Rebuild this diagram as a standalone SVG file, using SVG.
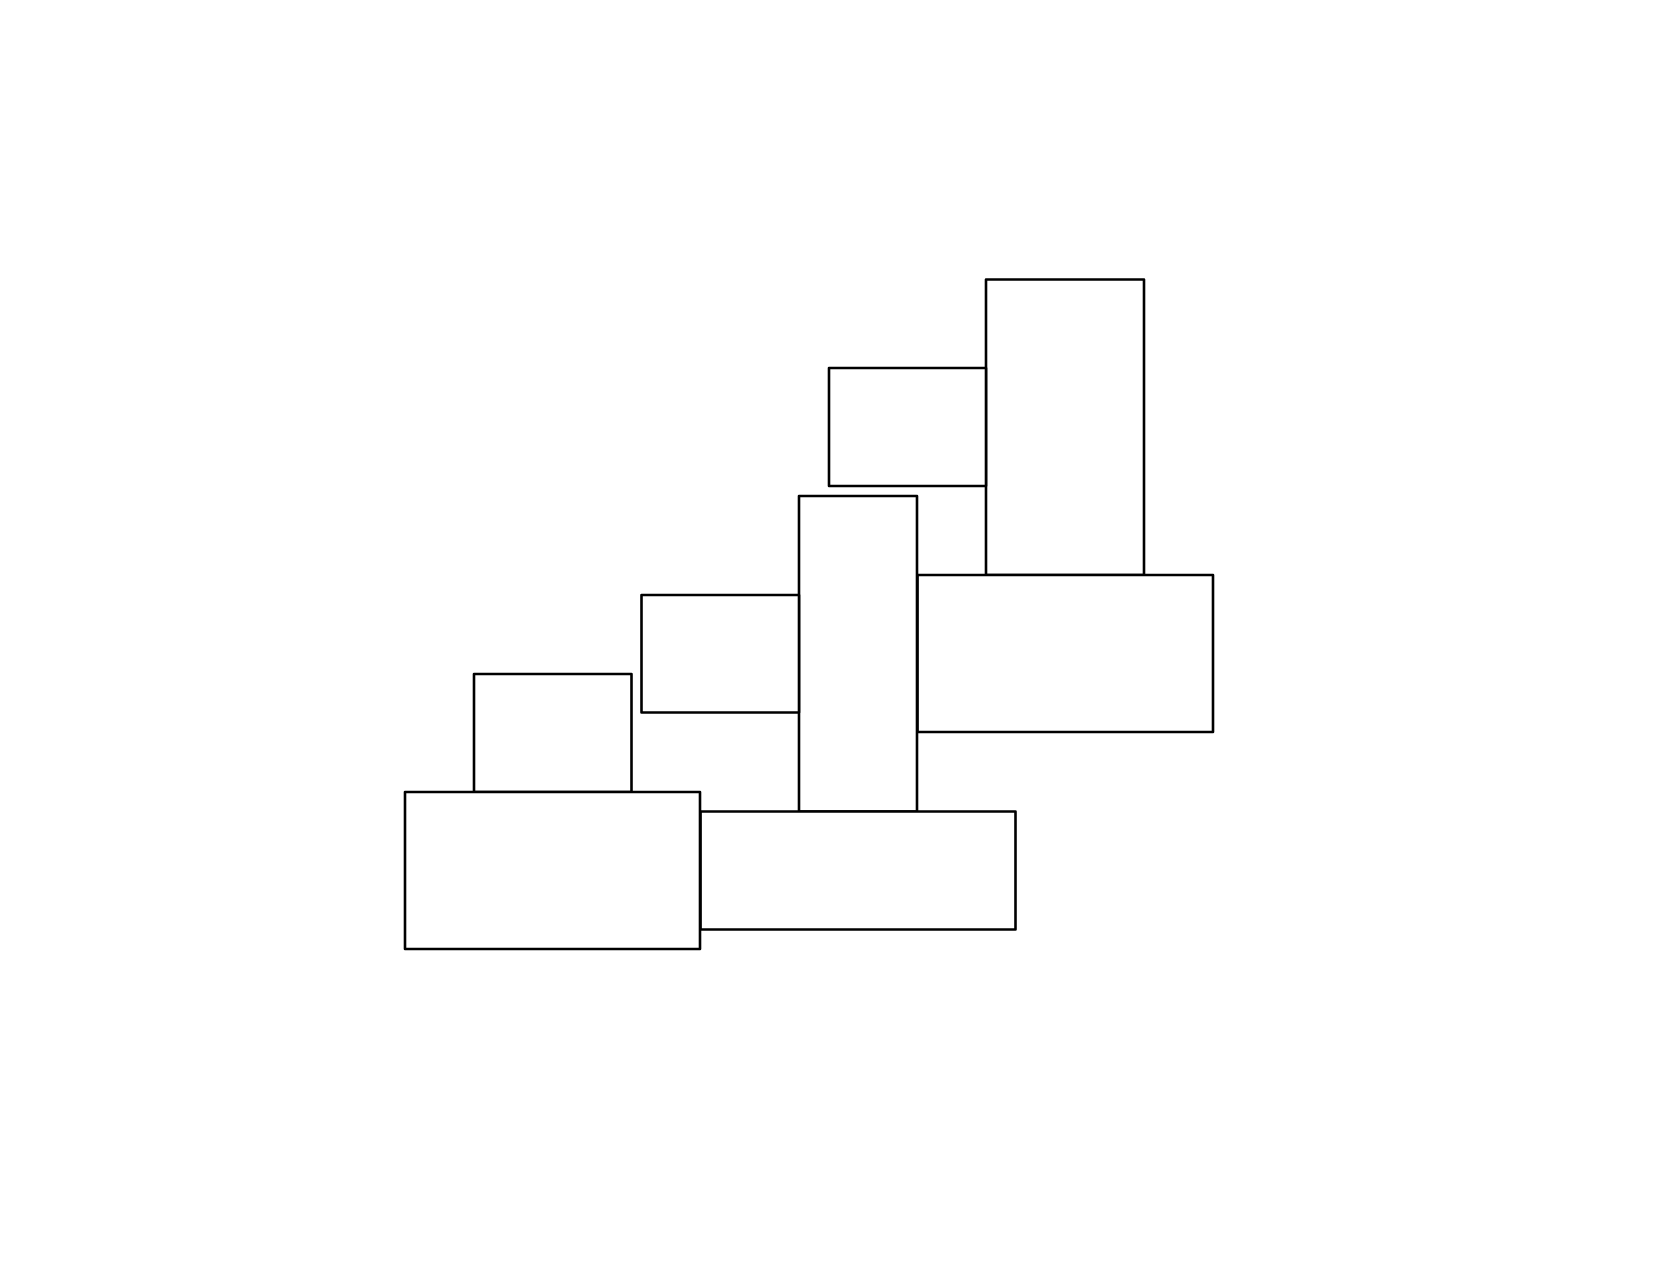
<svg xmlns="http://www.w3.org/2000/svg" width="1663" height="1263" viewBox="0 0 1663 1263">
<style>
.box{fill:#fff;stroke:#000;stroke-width:2.6;stroke-linejoin:round}
</style>
<rect x="0" y="0" width="1663" height="1263" fill="#fff"/>
<g id="rectA"><rect class="box" x="986" y="279.5" width="158" height="295.5"/></g>
<g id="rectB"><rect class="box" x="829" y="368" width="157" height="118"/></g>
<g id="rectD"><rect class="box" x="917.5" y="575" width="295.5" height="157"/></g>
<g id="rectC"><rect class="box" x="799" y="496" width="118" height="315.5"/></g>
<g id="rectE"><rect class="box" x="641.5" y="595" width="157.5" height="117.5"/></g>
<g id="rectF"><rect class="box" x="474" y="674" width="157.5" height="118"/></g>
<g id="rectH"><rect class="box" x="700.5" y="811.5" width="315" height="118"/></g>
<g id="rectG"><rect class="box" x="405" y="792" width="295" height="157"/></g>
<g id="connectors"></g>
</svg>
